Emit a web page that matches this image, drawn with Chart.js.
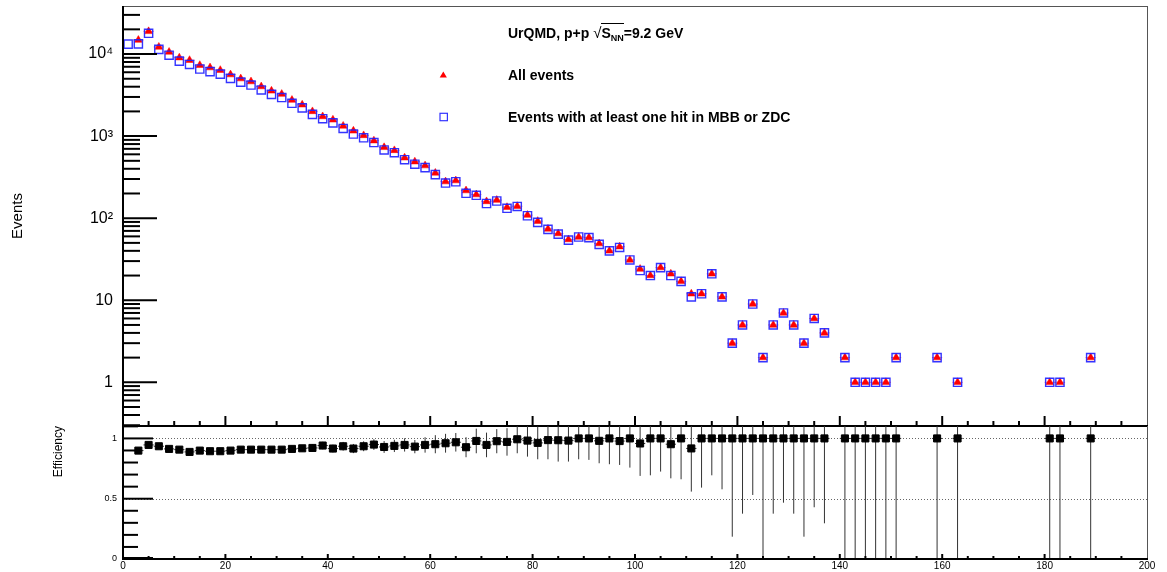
<!DOCTYPE html>
<html>
<head>
<meta charset="utf-8">
<title>UrQMD p+p events and efficiency</title>
<script src="https://cdn.jsdelivr.net/npm/chart.js@4.4.1/dist/chart.umd.min.js"></script>
<style>
  html, body { margin: 0; padding: 0; background: #fff; }
  body { width: 1167px; height: 572px; position: relative; overflow: hidden;
         font-family: "Liberation Sans", Arial, Helvetica, sans-serif; }
  canvas { position: absolute; left: 0; }
  #topCanvas { top: 0; }
  #effCanvas { top: 420px; }
  .txt { position: absolute; font-weight: bold; font-size: 14px; line-height: 14px; white-space: nowrap; color: #000; }
  .rad { font-weight: normal; font-size: 15px; }
  .ov { border-top: 1px solid #000; padding-top: 1px; }
  .ov sub { font-size: 9px; vertical-align: -3px; line-height: 0; }
</style>
</head>
<body>
<canvas id="topCanvas" width="1167" height="432"></canvas>
<canvas id="effCanvas" width="1167" height="152"></canvas>
<div class="txt" style="left:508px;top:26px">UrQMD, p+p <span class="rad">√</span><span class="ov">S<sub>NN</sub></span>=9.2 GeV</div>
<div class="txt" style="left:508px;top:68px">All events</div>
<div class="txt" style="left:508px;top:110px">Events with at least one hit in MBB or ZDC</div>
<script>
// bin centres (bin width 2), only the non-empty bins
const binX = [1, 3, 5, 7, 9, 11, 13, 15, 17, 19,
              21, 23, 25, 27, 29, 31, 33, 35, 37, 39,
              41, 43, 45, 47, 49, 51, 53, 55, 57, 59,
              61, 63, 65, 67, 69, 71, 73, 75, 77, 79,
              81, 83, 85, 87, 89, 91, 93, 95, 97, 99,
              101, 103, 105, 107, 109, 111, 113, 115, 117, 119,
              121, 123, 125, 127, 129, 131, 133, 135, 137, 141,
              143, 145, 147, 149, 151, 159, 163, 181, 183, 189];

const allEvents = [null, 14800, 18900, 12200, 10600, 9040, 8410, 7310, 6840, 6360,
                   5620, 5020, 4620, 4020, 3560, 3250, 2750, 2410, 2000, 1735,
                   1580, 1330, 1160, 1020, 880, 730, 670, 545, 488, 437,
                   356, 279, 287, 217, 194, 160, 166, 136, 140, 109,
                   92, 74, 65, 55, 59, 58, 49, 40, 45, 31,
                   24, 20, 25, 21, 17, 12, 12, 21, 11, 3,
                   5, 9, 2, 5, 7, 5, 3, 6, 4, 2,
                   1, 1, 1, 1, 2, 2, 1, 1, 1, 2];

const withHit = [13200, 13300, 17900, 11400, 9680, 8200, 7470, 6570, 6110, 5690,
                 5050, 4550, 4190, 3650, 3230, 2950, 2510, 2210, 1840, 1630,
                 1450, 1240, 1060, 954, 835, 678, 628, 516, 455, 413,
                 339, 268, 278, 201, 190, 151, 162, 132, 139, 107,
                 89, 73, 64, 54, 59, 58, 48, 40, 44, 31,
                 23, 20, 25, 20, 17, 11, 12, 21, 11, 3,
                 5, 9, 2, 5, 7, 5, 3, 6, 4, 2,
                 1, 1, 1, 1, 2, 2, 1, 1, 1, 2];

const efficiency = [null, 0.899, 0.946, 0.935, 0.913, 0.907, 0.888, 0.899, 0.894, 0.894,
                    0.899, 0.907, 0.907, 0.907, 0.907, 0.907, 0.913, 0.918, 0.921, 0.941,
                    0.916, 0.935, 0.916, 0.935, 0.949, 0.929, 0.938, 0.946, 0.932, 0.946,
                    0.952, 0.960, 0.968, 0.927, 0.979, 0.946, 0.977, 0.971, 0.993, 0.982,
                    0.963, 0.986, 0.985, 0.982, 1, 1, 0.980, 1, 0.978, 1,
                    0.958, 1, 1, 0.952, 1, 0.917, 1, 1, 1, 1,
                    1, 1, 1, 1, 1, 1, 1, 1, 1, 1,
                    1, 1, 1, 1, 1, 1, 1, 1, 1, 1];

const effErr = [null, 0.011, 0.010, 0.012, 0.013, 0.014, 0.014, 0.015, 0.015, 0.016,
                0.017, 0.018, 0.019, 0.020, 0.021, 0.023, 0.025, 0.026, 0.029, 0.031,
                0.032, 0.036, 0.038, 0.041, 0.044, 0.049, 0.051, 0.055, 0.055, 0.064,
                0.075, 0.078, 0.077, 0.083, 0.102, 0.102, 0.100, 0.114, 0.116, 0.133,
                0.136, 0.159, 0.177, 0.174, 0.173, 0.178, 0.186, 0.214, 0.198, 0.242,
                0.269, 0.306, 0.275, 0.283, 0.339, 0.358, 0.408, 0.306, 0.422, 0.815,
                0.624, 0.469, 1.0, 0.624, 0.533, 0.624, 0.815, 0.571, 0.704, 1.0,
                1.41, 1.41, 1.41, 1.41, 1.0, 1.0, 1.41, 1.41, 1.41, 1.0];
const binHalfWidth = 1;

const topTickValues = [1, 10, 100, 1000, 10000];
const topTickLabels = ['1', '10', '10²', '10³', '10⁴'];
const effTickValues = [0, 0.5, 1];
const effTickLabels = ['0', '0.5', '1'];
const xTickValues = [0, 20, 40, 60, 80, 100, 120, 140, 160, 180, 200];
const xTickLabels = ['0', '20', '40', '60', '80', '100', '120', '140', '160', '180', '200'];
const effRefLines = [1, 0.5];

const FONT = '"Liberation Sans", Arial, Helvetica, sans-serif';

function toPoints(ys) {
    const pts = [];
    binX.forEach((x, i) => { if (ys[i] != null) pts.push({x: x, y: ys[i]}); });
    return pts;
}

function line(ctx, x1, y1, x2, y2) {
    ctx.beginPath();
    ctx.moveTo(x1, y1);
    ctx.lineTo(x2, y2);
    ctx.stroke();
}

// ROOT-like frame: grey top/right, black axes, ticks pointing inwards
function drawFrame(chart, drawTop) {
    const ctx = chart.ctx, a = chart.chartArea;
    ctx.save();
    ctx.strokeStyle = '#555';
    ctx.lineWidth = 1;
    if (drawTop) line(ctx, a.left, a.top + 0.5, a.right, a.top + 0.5);
    line(ctx, a.right + 0.5, a.top, a.right + 0.5, a.bottom);
    ctx.strokeStyle = '#000';
    ctx.lineWidth = 2;
    line(ctx, a.left, a.top, a.left, a.bottom + 1);
    line(ctx, a.left - 1, a.bottom, a.right + 1, a.bottom);
    ctx.restore();
}

const topDecor = {
    id: 'topDecor',
    beforeDatasetsDraw(chart) {
        const ctx = chart.ctx, xs = chart.scales.x, ys = chart.scales.y;
        ctx.save();
        ctx.strokeStyle = 'rgba(255,0,0,0.55)';
        ctx.lineWidth = 1;
        binX.forEach((x, i) => {
            if (allEvents[i] == null) return;
            const py = ys.getPixelForValue(allEvents[i]);
            line(ctx, xs.getPixelForValue(x - binHalfWidth), py, xs.getPixelForValue(x + binHalfWidth), py);
        });
        ctx.restore();
    },
    afterDraw(chart) {
        const ctx = chart.ctx, a = chart.chartArea, xs = chart.scales.x, ys = chart.scales.y;
        drawFrame(chart, true);
        ctx.save();
        ctx.strokeStyle = '#000';
        ctx.lineWidth = 2;
        // y ticks, log
        for (let d = -1; d <= 4; d++) {
            for (let k = 1; k <= 9; k++) {
                const v = k * Math.pow(10, d);
                if (v < ys.min || v > ys.max) continue;
                const py = ys.getPixelForValue(v);
                line(ctx, a.left, py, a.left + (k === 1 ? 34 : 17), py);
            }
        }
        // x ticks at bottom
        for (let v = 5; v < 200; v += 5) {
            const px = xs.getPixelForValue(v);
            line(ctx, px, a.bottom, px, a.bottom - (v % 20 === 0 ? 10 : 5));
        }
        // legend markers
        ctx.fillStyle = '#ff0000';
        ctx.beginPath();
        ctx.moveTo(443.3, 71.5);
        ctx.lineTo(446.9, 77.6);
        ctx.lineTo(439.7, 77.6);
        ctx.closePath();
        ctx.fill();
        ctx.strokeStyle = 'rgba(30,30,255,0.9)';
        ctx.lineWidth = 1.2;
        ctx.strokeRect(440, 113.3, 7.4, 7.4);
        ctx.restore();
    }
};

const effDecor = {
    id: 'effDecor',
    beforeDatasetsDraw(chart) {
        const ctx = chart.ctx, a = chart.chartArea, xs = chart.scales.x, ys = chart.scales.y;
        ctx.save();
        ctx.strokeStyle = '#666';
        ctx.lineWidth = 1;
        ctx.setLineDash([1, 2]);
        effRefLines.forEach(v => {
            const py = Math.round(ys.getPixelForValue(v)) + 0.5;
            line(ctx, a.left, py, a.right, py);
        });
        ctx.setLineDash([]);
        ctx.beginPath();
        ctx.rect(a.left, a.top, a.right - a.left, a.bottom - a.top);
        ctx.clip();
        ctx.strokeStyle = '#333';
        binX.forEach((x, i) => {
            if (efficiency[i] == null) return;
            const px = xs.getPixelForValue(x);
            line(ctx, px, ys.getPixelForValue(efficiency[i] - effErr[i]), px, ys.getPixelForValue(efficiency[i] + effErr[i]));
            const py = ys.getPixelForValue(efficiency[i]);
            line(ctx, xs.getPixelForValue(x - binHalfWidth), py, xs.getPixelForValue(x + binHalfWidth), py);
        });
        ctx.restore();
    },
    afterDraw(chart) {
        const ctx = chart.ctx, a = chart.chartArea, xs = chart.scales.x, ys = chart.scales.y;
        drawFrame(chart, false);
        ctx.save();
        ctx.strokeStyle = '#000';
        ctx.lineWidth = 2;
        for (let t = 1; t <= 11; t++) {
            const v = t / 10;
            if (v > ys.max) continue;
            const py = ys.getPixelForValue(v);
            line(ctx, a.left, py, a.left + (t === 5 || t === 10 ? 30 : 15), py);
        }
        line(ctx, a.left, a.bottom - 1, a.left + 30, a.bottom - 1);
        for (let v = 5; v < 200; v += 5) {
            const px = xs.getPixelForValue(v);
            line(ctx, px, a.bottom, px, a.bottom - (v % 20 === 0 ? 5 : 3));
        }
        ctx.restore();
    }
};

new Chart(document.getElementById('topCanvas'), {
    type: 'scatter',
    data: {
        datasets: [
            {
                label: 'Events with at least one hit in MBB or ZDC',
                data: toPoints(withHit),
                pointStyle: 'rect',
                pointRadius: 5.8,
                pointBorderWidth: 1.4,
                pointBorderColor: 'rgba(30,30,255,0.9)',
                pointBackgroundColor: 'rgba(0,0,0,0)'
            },
            {
                label: 'All events',
                data: toPoints(allEvents),
                pointStyle: 'triangle',
                pointRadius: 4.5,
                pointBorderWidth: 0.5,
                pointBorderColor: '#ff0000',
                pointBackgroundColor: '#ff0000'
            }
        ]
    },
    options: {
        responsive: false,
        animation: false,
        events: [],
        layout: { autoPadding: false, padding: { top: 6, right: 20, bottom: 6, left: 0 } },
        plugins: { legend: { display: false }, tooltip: { enabled: false } },
        scales: {
            x: { type: 'linear', min: 0, max: 200, display: false },
            y: {
                type: 'logarithmic',
                min: 0.2936,
                max: 38500,
                grid: { display: false, drawTicks: false },
                border: { display: false },
                afterBuildTicks: s => { s.ticks = topTickValues.map(v => ({ value: v })); },
                afterFit: s => { s.width = 123; s.paddingTop = 0; s.paddingBottom = 0; },
                ticks: {
                    padding: 10,
                    autoSkip: false,
                    color: '#000',
                    font: { family: FONT, size: 16 },
                    callback: (v, i) => topTickLabels[i]
                },
                title: {
                    display: true,
                    text: 'Events',
                    color: '#000',
                    font: { family: FONT, size: 15 },
                    padding: { top: 9, bottom: 0 }
                }
            }
        }
    },
    plugins: [topDecor]
});

new Chart(document.getElementById('effCanvas'), {
    type: 'scatter',
    data: {
        datasets: [{
            label: 'Efficiency',
            data: toPoints(efficiency),
            pointStyle: 'rect',
            pointRadius: 5,
            pointBorderWidth: 1,
            pointBorderColor: '#000',
            pointBackgroundColor: '#000'
        }]
    },
    options: {
        responsive: false,
        animation: false,
        events: [],
        layout: { autoPadding: false, padding: { top: 6, right: 20, bottom: 0, left: 0 } },
        plugins: { legend: { display: false }, tooltip: { enabled: false } },
        scales: {
            x: {
                type: 'linear',
                min: 0,
                max: 200,
                grid: { display: false, drawTicks: false },
                border: { display: false },
                afterBuildTicks: s => { s.ticks = xTickValues.map(v => ({ value: v })); },
                afterFit: s => { s.height = 13; s.paddingLeft = 0; s.paddingRight = 0; },
                ticks: {
                    padding: 1,
                    maxRotation: 0,
                    autoSkip: false,
                    color: '#000',
                    font: { family: FONT, size: 10 },
                    callback: (v, i) => xTickLabels[i]
                }
            },
            y: {
                type: 'linear',
                min: 0,
                max: 1.103,
                grid: { display: false, drawTicks: false },
                border: { display: false },
                afterBuildTicks: s => { s.ticks = effTickValues.map(v => ({ value: v })); },
                afterFit: s => { s.width = 123; s.paddingTop = 0; s.paddingBottom = 0; },
                ticks: {
                    padding: 6,
                    autoSkip: false,
                    color: '#000',
                    font: { family: FONT, size: 9 },
                    callback: (v, i) => effTickLabels[i]
                },
                title: {
                    display: true,
                    text: 'Efficiency',
                    align: 'end',
                    color: '#000',
                    font: { family: FONT, size: 12 },
                    padding: { top: 51, bottom: 0 }
                }
            }
        }
    },
    plugins: [effDecor]
});
</script>
</body>
</html>
